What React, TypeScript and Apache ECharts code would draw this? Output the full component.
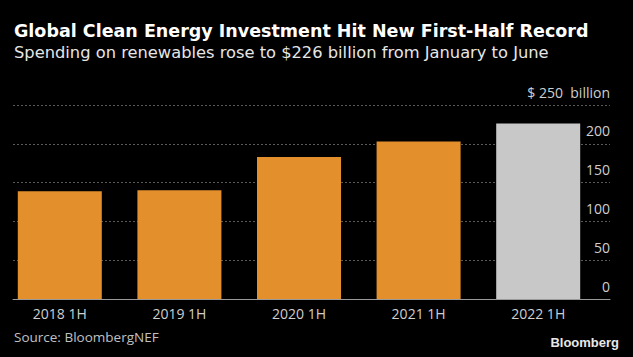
import React, { useEffect, useRef } from "react";
import * as echarts from "echarts";

const categories = ["2018 1H", "2019 1H", "2020 1H", "2021 1H", "2022 1H"];
const investment = [139, 140, 183, 203, 226];
const highlightIndex = 4;
const yMin = 0;
const yMax = 250;
const yInterval = 50;

const title = "Global Clean Energy Investment Hit New First-Half Record";
const subtitle = "Spending on renewables rose to $226 billion from January to June";
const source = "Source: BloombergNEF";

const FONT = "'Open Sans', 'Noto Sans', sans-serif";
const HEAD_FONT = "'DejaVu Sans', 'Noto Sans', sans-serif";

export default function App() {
  const ref = useRef<HTMLDivElement>(null);
  useEffect(() => {
    if (!ref.current) return;
    const chart = echarts.init(ref.current, undefined, { renderer: "svg" });
    const option: any = {
      animation: false,
      backgroundColor: "#000000",
      graphic: [
        {
          type: "text",
          left: 14,
          top: 21.5,
          style: { text: title, fill: "#ffffff", font: `bold 17.5px ${HEAD_FONT}` },
        },
        {
          type: "text",
          left: 14,
          top: 44.5,
          style: { text: subtitle, fill: "#e6e6e6", font: `16.3px ${HEAD_FONT}` },
        },
        {
          type: "text",
          left: 14,
          top: 330,
          style: { text: source, fill: "#c0c0c0", font: `13.5px ${FONT}` },
        },
        {
          type: "text",
          right: 14,
          top: 336,
          style: { text: "Bloomberg", fill: "#e8e8e8", font: "bold 13px 'Liberation Sans', Arial, sans-serif" },
        },
      ],
      grid: [
        { left: 13, right: 23, top: 105, bottom: 58 },
        { left: -5, right: 35, top: 105, bottom: 58 },
      ],
      xAxis: [
        {
          gridIndex: 0,
          type: "value",
          min: 0,
          max: 1,
          show: true,
          axisLine: { show: true, lineStyle: { color: "#9a9a9a", width: 1 } },
          axisTick: { show: false },
          axisLabel: { show: false },
          splitLine: { show: false },
          z: 5,
        },
        {
          gridIndex: 1,
          type: "category",
          data: categories,
          axisLine: { show: false },
          axisTick: { show: false },
          axisLabel: {
            color: "#cfcfcf",
            fontSize: 14,
            fontFamily: FONT,
            margin: 7,
          },
        },
      ],
      yAxis: [
        {
          gridIndex: 0,
          type: "value",
          min: yMin,
          max: yMax,
          interval: yInterval,
          position: "right",
          axisLine: { show: false },
          axisTick: { show: false },
          splitLine: {
            show: true,
            lineStyle: { color: "#5a5a5a", type: [2, 2], width: 1 },
          },
          axisLabel: {
            inside: true,
            margin: 0,
            color: "#cfcfcf",
            fontSize: 14,
            fontFamily: FONT,
            verticalAlign: "bottom",
            padding: [0, 0, 6, 0],
            formatter: (v: number) => (v === yMax ? `$ ${v}  billion` : `${v}`),
          },
        },
        {
          gridIndex: 1,
          type: "value",
          min: yMin,
          max: yMax,
          interval: yInterval,
          show: false,
        },
      ],
      series: [
        {
          type: "bar",
          xAxisIndex: 1,
          yAxisIndex: 1,
          barWidth: 84,
          z: 3,
          data: investment.map((v, i) => ({
            value: v,
            itemStyle: { color: i === highlightIndex ? "#c8c8c8" : "#e3902c" },
          })),
        },
      ],
    };
    chart.setOption(option);
    return () => chart.dispose();
  }, []);
  return (
    <div
      ref={ref}
      style={{ position: "fixed", left: 0, top: 0, width: 633, height: 357, background: "#000" }}
    />
  );
}
